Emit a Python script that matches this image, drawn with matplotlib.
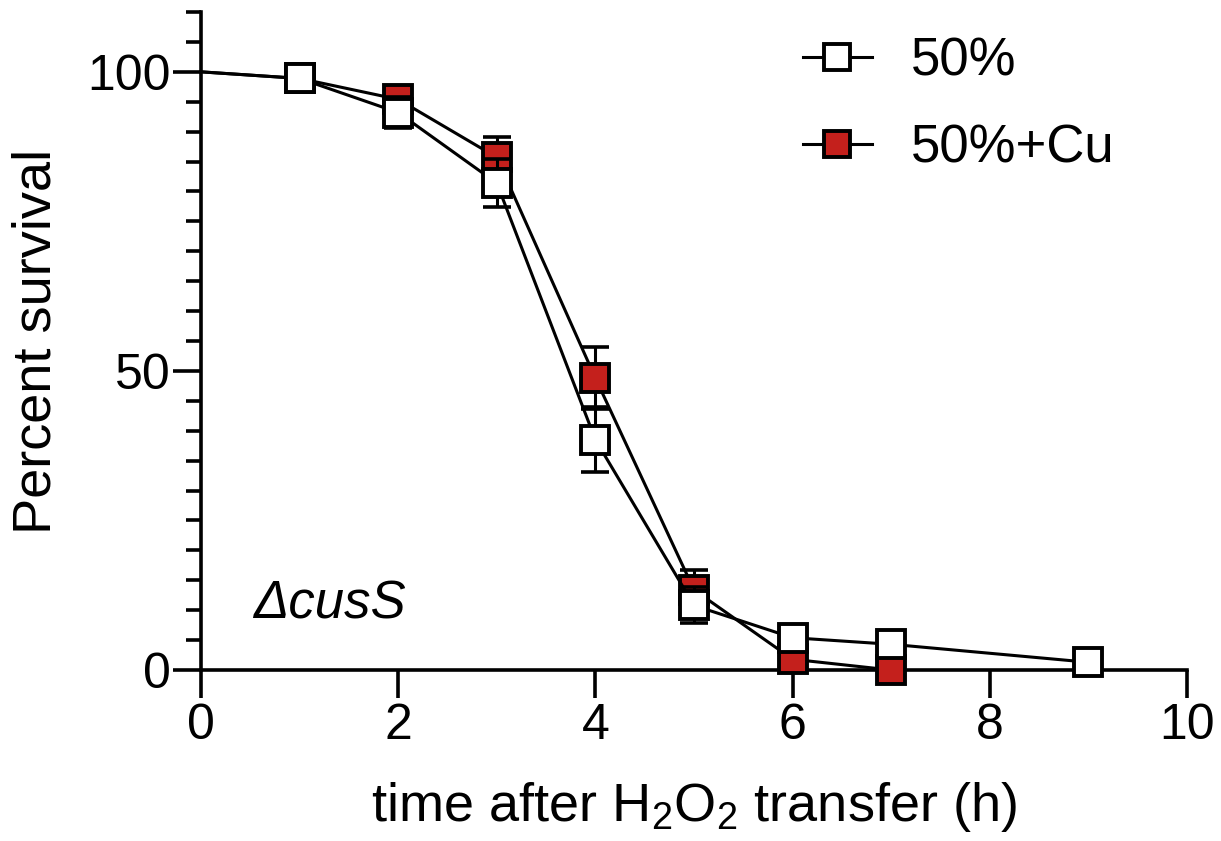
import matplotlib
matplotlib.use("Agg")
import matplotlib.pyplot as plt
from matplotlib.lines import Line2D
from matplotlib.ticker import MultipleLocator

plt.rcParams['font.family'] = ['Liberation Sans', 'DejaVu Sans']
plt.rcParams['mathtext.fontset'] = 'custom'
plt.rcParams['mathtext.rm'] = 'Liberation Sans'
plt.rcParams['mathtext.it'] = 'Liberation Sans:italic'

# Survival time courses (first point, t=0, is the 100% baseline with no marker)
time_plain = [0, 1, 2, 3, 4, 5, 6, 7, 9]
surv_plain = [100, 98.9, 93.2, 81.4, 38.5, 10.8, 5.4, 4.3, 1.3]
err_plain = [0, 0.5, 2.6, 4.0, 5.4, 3.0, 1.0, 0.8, 0.5]

time_cu = [0, 1, 2, 3, 4, 5, 6, 7]
surv_cu = [100, 98.9, 95.4, 85.7, 48.8, 13.4, 1.8, 0.0]
err_cu = [0, 0.5, 1.2, 3.4, 5.2, 3.3, 0.8, 0.5]

label_plain = "50%"
label_cu = "50%+Cu"
red = "#C4201C"

fig = plt.figure(figsize=(12.21, 8.41), dpi=100)
ax = fig.add_axes([0.1646, 0.2033, 0.8076, 0.7824])

LW = 2.2
mstyle = dict(marker="s", markersize=20, markeredgewidth=2.8,
              markeredgecolor="black")


def draw_series(t, y, e, face, z):
    ax.plot(t, y, color="black", lw=LW, zorder=z, clip_on=False)
    ax.errorbar(t[1:], y[1:], yerr=e[1:], fmt="none", ecolor="black",
                elinewidth=LW, capsize=10, capthick=2.6, zorder=z,
                clip_on=False)
    ax.plot(t[1:], y[1:], linestyle="none", markerfacecolor=face,
            zorder=z + 0.5, clip_on=False, **mstyle)


draw_series(time_cu, surv_cu, err_cu, red, 3)
draw_series(time_plain, surv_plain, err_plain, "white", 4)

ax.set_xlim(0, 10)
ax.set_ylim(0, 110)
ax.set_xticks([0, 2, 4, 6, 8, 10])
ax.set_yticks([0, 50, 100])
ax.yaxis.set_minor_locator(MultipleLocator(5))

for side in ("top", "right"):
    ax.spines[side].set_visible(False)
for side in ("left", "bottom"):
    ax.spines[side].set_linewidth(2.6)

ax.tick_params(axis="both", which="major", direction="out", length=20,
               width=2.6, labelsize=36)
ax.tick_params(axis="x", which="major", pad=4)
ax.tick_params(axis="y", which="major", pad=2)
ax.tick_params(axis="y", which="minor", direction="out", length=11, width=2.6)

ax.set_xlabel(r"time after H$_2$O$_2$ transfer (h)", fontsize=39, labelpad=22)
ax.set_ylabel("Percent survival", fontsize=39, labelpad=18)

ax.text(0.53, 11, "\u0394cusS", fontsize=38, style="italic",
        ha="left", va="center")

handles = [
    Line2D([], [], color="black", lw=LW, markerfacecolor="white", **mstyle),
    Line2D([], [], color="black", lw=LW, markerfacecolor=red, **mstyle),
]
ax.legend(handles, [label_plain, label_cu], loc="upper right",
          bbox_to_anchor=(0.975, 1.035), frameon=False, fontsize=38,
          handlelength=1.3, handletextpad=0.75, labelspacing=0.7,
          markerscale=0.95)

fig.savefig("out.png", dpi=100)
